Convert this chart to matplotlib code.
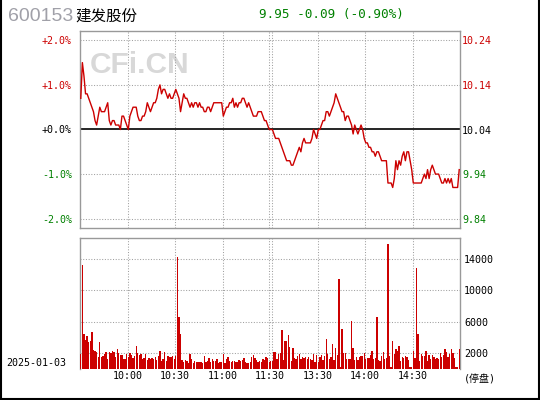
import matplotlib
matplotlib.use("Agg")
import matplotlib.pyplot as plt
from matplotlib.lines import Line2D
import numpy as np

prev_close = 10.04
code = "600153"
name = "建发股份"
date = "2025-01-03"
quote = "9.95 -0.09 (-0.90%)"

# one price per minute, 9:30-11:30 and 13:00-15:00
prices_am = [
    10.11, 10.19, 10.16, 10.12, 10.12, 10.11, 10.10, 10.09, 10.08, 10.06,
    10.05, 10.07, 10.09, 10.08, 10.08, 10.08, 10.09, 10.10, 10.06, 10.05,
    10.06, 10.06, 10.05, 10.05, 10.05, 10.04, 10.07, 10.07, 10.06, 10.05,
    10.04, 10.07, 10.08, 10.09, 10.09, 10.09, 10.07, 10.06, 10.06, 10.07,
    10.07, 10.08, 10.10, 10.09, 10.08, 10.09, 10.10, 10.10, 10.11, 10.13,
    10.14, 10.12, 10.13, 10.13, 10.12, 10.11, 10.12, 10.11, 10.11, 10.12,
    10.13, 10.12, 10.11, 10.08, 10.10, 10.12, 10.11, 10.11, 10.10, 10.09,
    10.10, 10.09, 10.10, 10.10, 10.09, 10.10, 10.09, 10.09, 10.08, 10.08,
    10.09, 10.09, 10.08, 10.09, 10.10, 10.10, 10.10, 10.10, 10.10, 10.10,
    10.07, 10.08, 10.09, 10.09, 10.10, 10.10, 10.11, 10.09, 10.10, 10.09,
    10.10, 10.10, 10.11, 10.11, 10.10, 10.09, 10.10, 10.09, 10.08, 10.07,
    10.07, 10.07, 10.08, 10.08, 10.08, 10.07, 10.06, 10.06, 10.05, 10.04,
]
prices_pm = [
    10.04, 10.04, 10.03, 10.02, 10.02, 10.02, 10.01, 10.00, 9.99, 9.98,
    9.97, 9.97, 9.97, 9.96, 9.96, 9.97, 9.98, 9.99, 10.00, 9.99,
    10.01, 10.02, 10.01, 10.01, 10.01, 10.01, 10.02, 10.04, 10.03, 10.02,
    10.04, 10.04, 10.05, 10.06, 10.06, 10.08, 10.08, 10.07, 10.08, 10.09,
    10.10, 10.12, 10.11, 10.10, 10.09, 10.08, 10.08, 10.06, 10.07, 10.07,
    10.06, 10.05, 10.03, 10.05, 10.04, 10.03, 10.04, 10.05, 10.04, 10.02,
    10.01, 10.01, 10.00, 10.00, 9.99, 9.99, 9.98, 9.99, 9.99, 9.98,
    9.97, 9.97, 9.97, 9.97, 9.92, 9.92, 9.92, 9.91, 9.93, 9.97,
    9.95, 9.97, 9.96, 9.98, 9.99, 9.97, 9.99, 9.99, 9.97, 9.95,
    9.92, 9.92, 9.92, 9.92, 9.92, 9.92, 9.93, 9.94, 9.93, 9.95,
    9.93, 9.95, 9.96, 9.95, 9.94, 9.94, 9.94, 9.93, 9.92, 9.92,
    9.93, 9.92, 9.93, 9.92, 9.93, 9.91, 9.91, 9.91, 9.91, 9.95,
]
vol_am = [
    1900, 13200, 4450, 3700, 4200, 3480, 3560, 4700, 2420, 2290,
    2160, 1530, 3440, 1530, 1650, 1900, 2160, 1270, 2160, 2040,
    2290, 2160, 1530, 2550, 2040, 1780, 1780, 1270, 1270, 1900,
    1530, 2040, 1780, 1400, 1650, 2930, 2040, 1780, 1900, 1270,
    1400, 1900, 1150, 1400, 1270, 1400, 1270, 1530, 1150, 1650,
    2290, 1020, 1270, 2160, 1020, 1650, 1530, 1530, 1650, 1270,
    1650, 14260, 6620, 4450, 1150, 890, 1150, 1020, 760, 1900,
    1270, 760, 1020, 890, 890, 890, 890, 760, 1650, 890,
    1020, 1400, 890, 1270, 1020, 1020, 1270, 760, 890, 890,
    1900, 760, 1270, 1530, 1020, 890, 1020, 1020, 890, 890,
    1150, 1020, 1150, 1400, 890, 760, 760, 890, 1530, 1780,
    1400, 1150, 890, 1020, 890, 1270, 1150, 1530, 1400, 890,
]
vol_pm = [
    1020, 1020, 2160, 2160, 1270, 1900, 2040, 4960, 1150, 3560,
    3560, 4330, 2800, 1020, 2670, 1400, 1270, 1650, 1900, 1270,
    1530, 1400, 1530, 1270, 1530, 1270, 1150, 1900, 890, 1780,
    890, 1530, 1780, 1150, 1650, 3820, 1900, 1270, 1530, 3180,
    1150, 2670, 1780, 11460, 300, 5090, 2040, 2040, 1270, 1270,
    1270, 6110, 2670, 1150, 1530, 1150, 1530, 1650, 1650, 2040,
    1270, 1400, 1400, 1780, 2290, 1270, 1400, 6620, 1150, 1020,
    1650, 2160, 1270, 1400, 15910, 1650, 300, 3560, 1900, 2550,
    2290, 2930, 1020, 1530, 1400, 1650, 1530, 1150, 200, 200,
    2290, 1400, 12860, 4450, 1020, 1900, 1650, 1650, 2290, 1020,
    1780, 1270, 1780, 1530, 1270, 1400, 1270, 2040, 1530, 1780,
    2550, 2160, 1530, 1900, 2550, 2040, 1400, 200, 200, 2550,
]

time_ticks = [30, 60, 90, 120, 150, 180, 210]
time_labels = ["10:00", "10:30", "11:00", "11:30", "13:30", "14:00", "14:30"]
pct_ticks = [2, 1, 0, -1, -2]
vol_ticks = [2000, 6000, 10000, 14000]

RED = "#cc0000"
GREEN = "#008000"
GRID = "#a0a0a0"
FRAME = "#999999"
MONO = "DejaVu Sans Mono"
W, H = 540, 400

prices = np.array(prices_am + prices_pm)
volumes = np.array(vol_am + vol_pm)
t = np.arange(len(prices)) + 0.5
pct = (prices / prev_close - 1) * 100

fig = plt.figure(figsize=(W / 100, H / 100), dpi=100)
fig.patch.set_facecolor("white")


def box(x0, y0, x1, y1):
    return [x0 / W, 1 - y1 / H, (x1 - x0) / W, (y1 - y0) / H]


ax = fig.add_axes(box(80, 31, 460, 228))
axv = fig.add_axes(box(80, 238, 460, 369))

grid_x = [30, 60, 90, 119.4, 121, 150, 180, 210]
dots = (0, (1, 1.6))

for a in (ax, axv):
    a.set_xlim(0, 240)
    for gx in grid_x:
        a.axvline(gx, color=GRID, lw=0.75, ls=dots, zorder=1)
    for s in a.spines.values():
        s.set_color(FRAME)
        s.set_linewidth(1.0)
    a.tick_params(length=0)

# price panel
ax.set_ylim(-2.2, 2.2)
for k in (2, 1, -1, -2):
    ax.axhline(k, color=GRID, lw=0.75, ls=dots, zorder=1)
ax.axhline(0, color="black", lw=1.2, zorder=2)
ax.plot(t, pct, color=RED, lw=1.0, zorder=3)
ax.set_xticks([])
ax.set_yticks(pct_ticks)
ax.set_yticklabels([f"{k:+.1f}%" for k in pct_ticks], family=MONO, fontsize=7.2)
ax.tick_params(axis="y", pad=5.8)


def tick_color(k):
    return RED if k > 0 else (GREEN if k < 0 else "black")


for lab, k in zip(ax.get_yticklabels(), pct_ticks):
    lab.set_color(tick_color(k))

ax2 = ax.twinx()
ax2.set_ylim(prev_close * (1 - 0.022), prev_close * (1 + 0.022))
ax2.set_yticks([prev_close * (1 + k / 100) for k in pct_ticks])
ax2.set_yticklabels([f"{prev_close * (1 + k / 100):.2f}" for k in pct_ticks],
                    family=MONO, fontsize=7.2)
ax2.tick_params(length=0, pad=1.5)
for s in ax2.spines.values():
    s.set_visible(False)
for lab, k in zip(ax2.get_yticklabels(), pct_ticks):
    lab.set_color(tick_color(k))

ax.text(90 / W, 1 - 65 / H, "CFi.CN", transform=fig.transFigure, family="Liberation Sans",
        fontweight="bold", fontsize=21.5, color="#d8d8d8", va="center", ha="left", zorder=0.5)

# volume panel
axv.bar(t, volumes, width=0.8, color=RED, linewidth=0, antialiased=False, zorder=3)
axv.set_ylim(0, 16680)
for v in vol_ticks:
    axv.axhline(v, color=GRID, lw=0.75, ls=dots, zorder=1)
axv.spines["bottom"].set_visible(False)
axv.yaxis.tick_right()
axv.set_yticks(vol_ticks)
axv.set_yticklabels([str(v) for v in vol_ticks], family=MONO, fontsize=7.2)
axv.tick_params(axis="y", pad=3)
axv.set_xticks(time_ticks)
axv.set_xticklabels(time_labels, family=MONO, fontsize=7.2)
axv.tick_params(axis="x", pad=1.5)

# header and side texts
fig.text(8 / W, 1 - 16.5 / H, code, family="Liberation Sans", fontsize=14,
         color="#a0a0a8", va="center", ha="left")
fig.text(75 / W, 1 - 16.5 / H, name, family=["Noto Sans CJK SC", "DejaVu Sans"],
         fontsize=11.2, color="black", va="center", ha="left")
fig.text(259 / W, 1 - 14.7 / H, quote, family=MONO, fontsize=9.1,
         color=GREEN, va="center", ha="left")
fig.text(6.5 / W, 1 - 363 / H, date, family=MONO, fontsize=7.2,
         color="black", va="center", ha="left")
fig.text(464 / W, 1 - 379 / H, "(停盘)", family=[MONO, "Noto Sans CJK SC"],
         fontsize=7.2, color="black", va="center", ha="left")

# outer frame (left, right, bottom)
for xs, ys in (([0.5 / W, 0.5 / W], [0, 1]),
               ([1 - 1 / W, 1 - 1 / W], [0, 1]),
               ([0, 1], [1 / H, 1 / H])):
    fig.add_artist(Line2D(xs, ys, color="black", lw=1.5, transform=fig.transFigure))

fig.savefig("out.png", dpi=100)
